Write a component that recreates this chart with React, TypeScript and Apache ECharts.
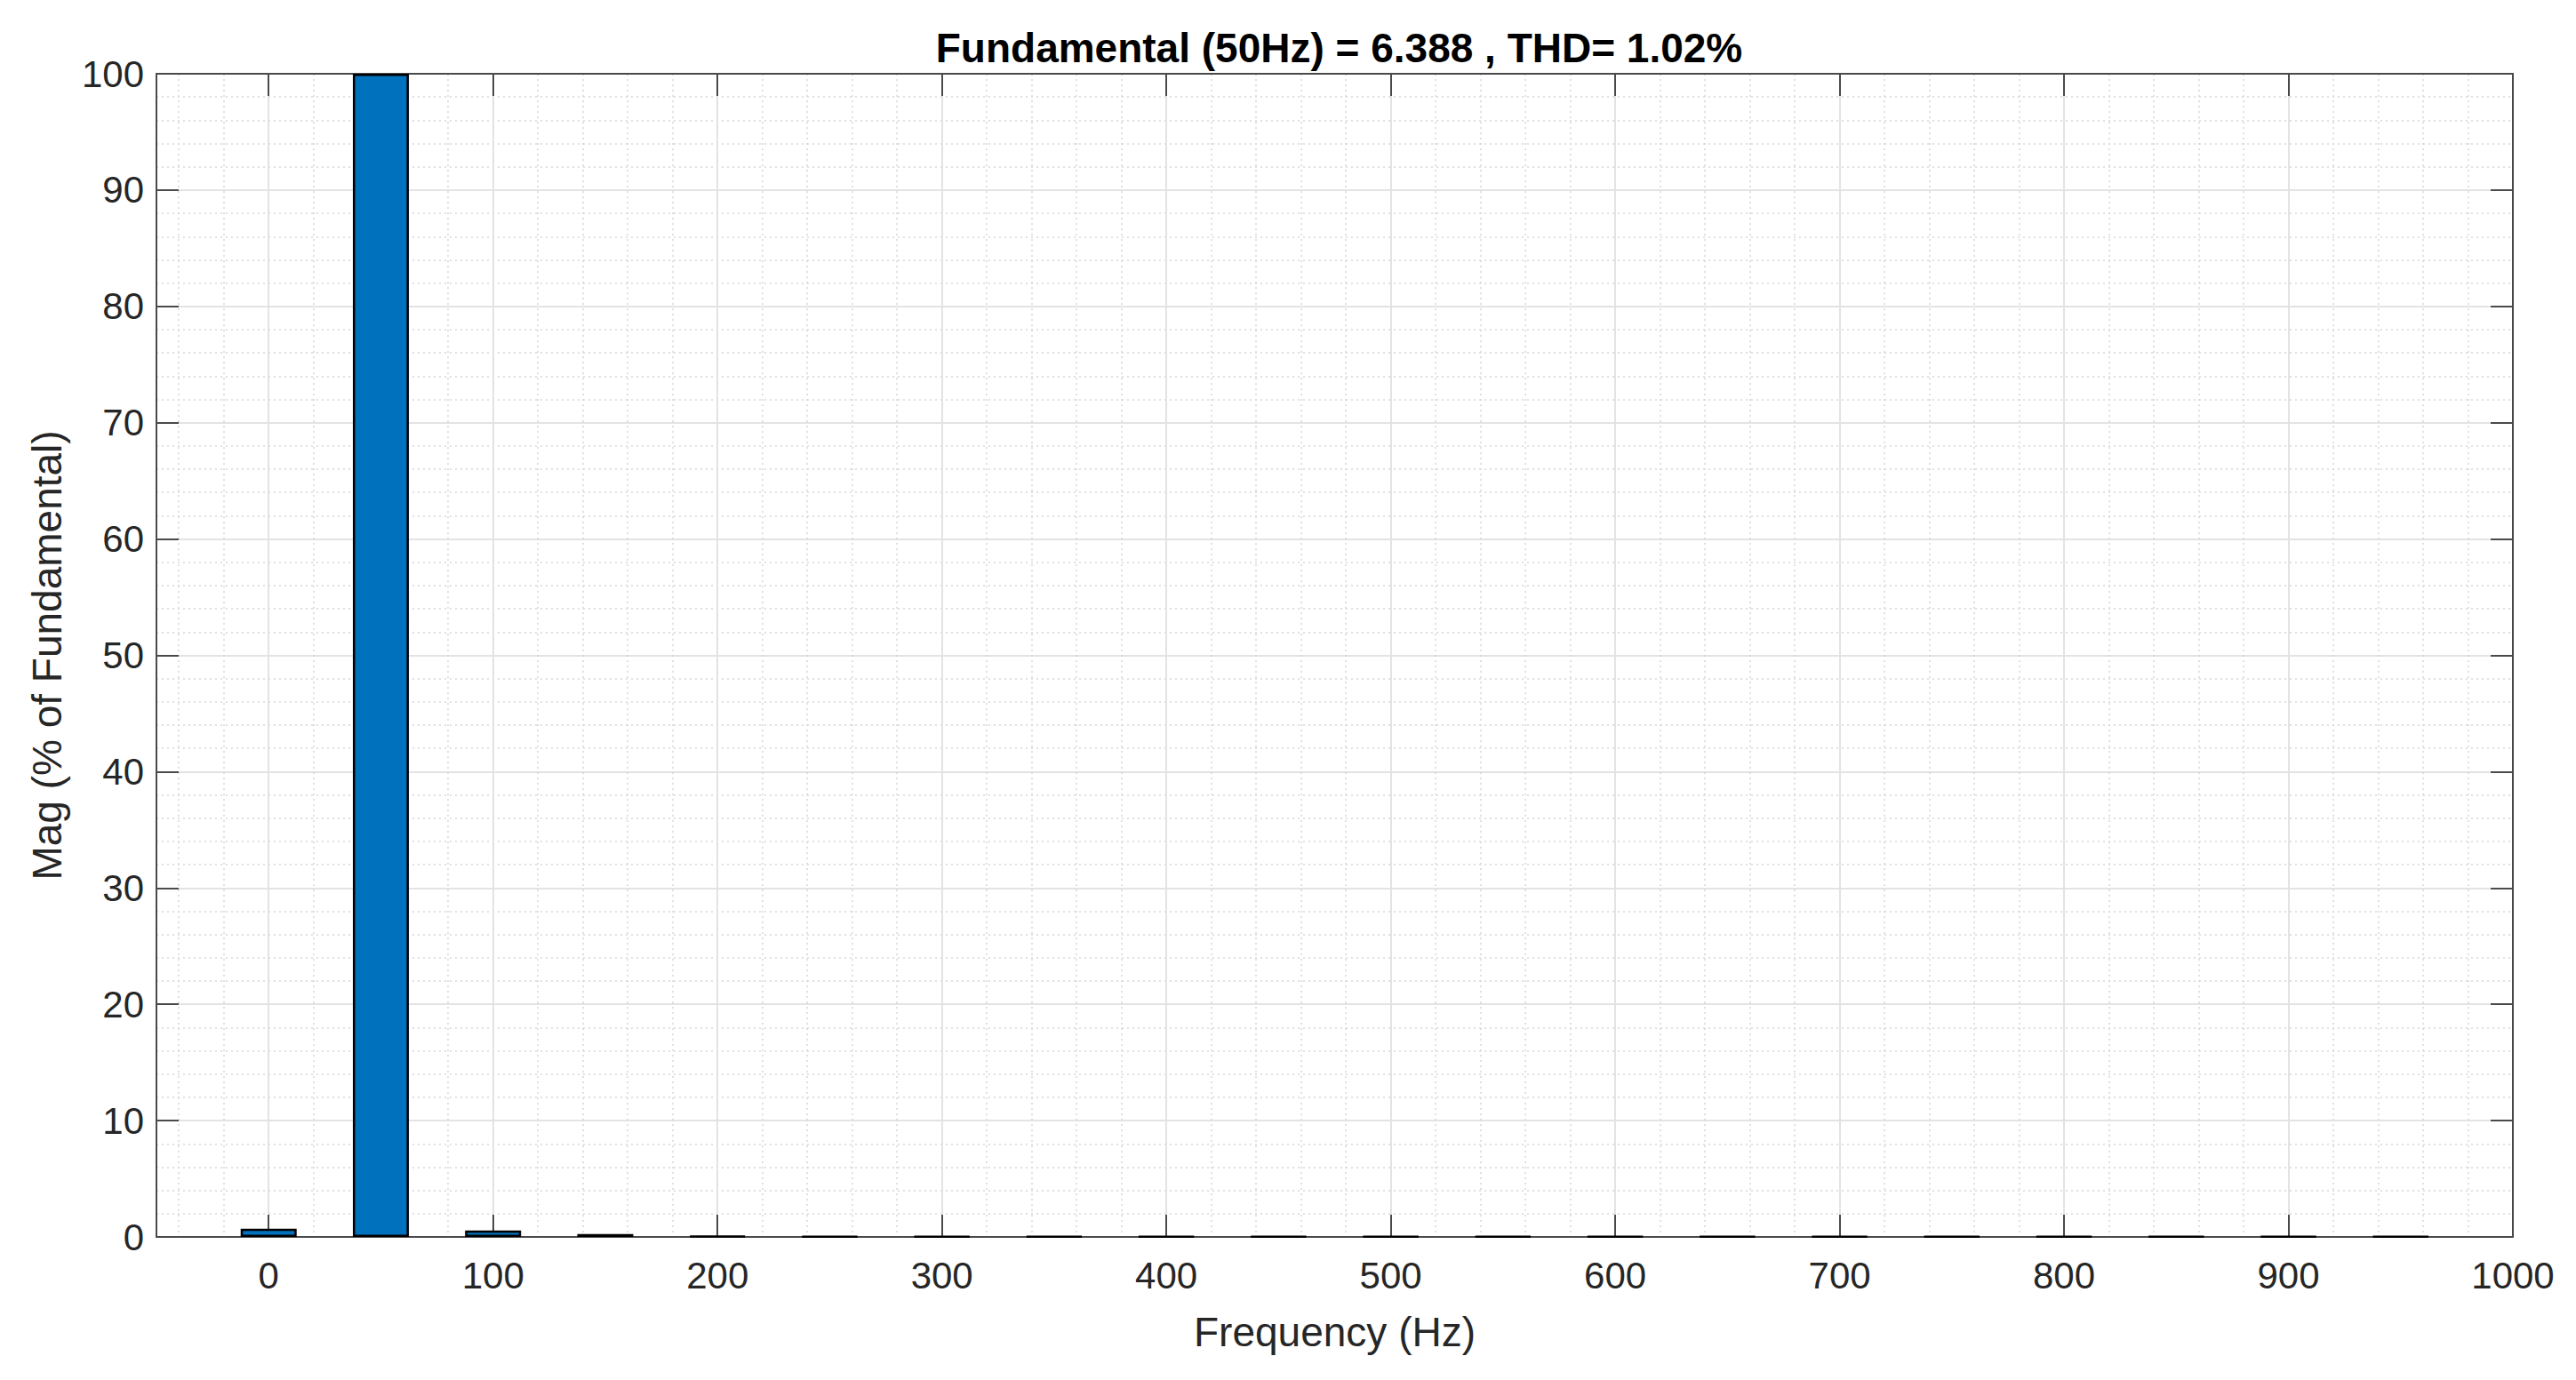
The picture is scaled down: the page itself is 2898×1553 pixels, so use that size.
import React, { useEffect, useRef } from "react";
import * as echarts from "echarts";

// harmonic spectrum, % of fundamental
const frequencies = [0, 50, 100, 150, 200, 250, 300, 350, 400, 450, 500, 550, 600, 650, 700, 750, 800, 850, 900, 950];
const magnitudes = [0.7, 100, 0.55, 0.25, 0.08, 0.05, 0.04, 0.05, 0.04, 0.05, 0.04, 0.05, 0.04, 0.04, 0.05, 0.04, 0.04, 0.05, 0.04, 0.04];

const xMajorTicks = [0, 100, 200, 300, 400, 500, 600, 700, 800, 900, 1000];
const xMinorTicks = [-40, -20, 20, 40, 60, 80, 120, 140, 160, 180, 220, 240, 260, 280, 320, 340, 360, 380, 420, 440, 460, 480, 520, 540, 560, 580, 620, 640, 660, 680, 720, 740, 760, 780, 820, 840, 860, 880, 920, 940, 960, 980];

const title = "Fundamental (50Hz) = 6.388 , THD= 1.02%";
const xName = "Frequency (Hz)";
const yName = "Mag (% of Fundamental)";

const FONT = "'Liberation Sans', Arial, Helvetica, sans-serif";
const TEXT = "#262626";
const AXIS = "#4a4a4a";

const App: React.FC = () => {
  const chartRef = useRef<HTMLDivElement>(null);

  useEffect(() => {
    document.body.style.margin = "0";
    const chart = echarts.init(chartRef.current as HTMLDivElement, undefined, { renderer: "svg" });

    const axisLine = { show: true, onZero: false, lineStyle: { color: AXIS, width: 2 } };
    const tick = { show: true, inside: true, length: 25, lineStyle: { color: AXIS, width: 2 } };

    const option: echarts.EChartsOption = {
      animation: false,
      backgroundColor: "#ffffff",
      textStyle: { fontFamily: FONT },
      title: {
        text: title,
        left: (176 + 2827) / 2,
        top: 26,
        textAlign: "center",
        textStyle: { fontFamily: FONT, fontWeight: "bold", fontSize: 46, color: "#000000" },
      },
      grid: { left: 176, right: 71, top: 83, bottom: 161 },
      xAxis: [
        {
          type: "value",
          min: -50,
          max: 1000,
          position: "bottom",
          name: xName,
          nameLocation: "middle",
          nameGap: 84,
          nameTextStyle: { fontFamily: FONT, fontSize: 46, color: TEXT },
          axisLine,
          axisTick: { ...tick, customValues: xMajorTicks },
          axisLabel: {
            customValues: xMajorTicks,
            formatter: (v: number) => String(v),
            fontFamily: FONT,
            fontSize: 42,
            color: TEXT,
            margin: 22,
          },
          splitLine: { show: true, lineStyle: { color: "#e3e3e3", width: 2 } },
        },
        {
          type: "value",
          min: -50,
          max: 1000,
          position: "top",
          axisLine,
          axisTick: { ...tick, customValues: xMajorTicks },
          axisLabel: { show: false },
          splitLine: { show: false },
        },
        {
          type: "value",
          min: -50,
          max: 1000,
          position: "bottom",
          axisLine: { show: false },
          axisTick: { show: false, customValues: xMinorTicks },
          axisLabel: { show: false, customValues: xMinorTicks },
          splitLine: { show: true, lineStyle: { color: "#d6d6d6", width: 1.5, type: [2, 4] } },
        },
      ],
      yAxis: [
        {
          type: "value",
          min: 0,
          max: 100,
          interval: 10,
          position: "left",
          name: yName,
          nameLocation: "middle",
          nameGap: 100,
          nameTextStyle: { fontFamily: FONT, fontSize: 46, color: TEXT },
          axisLine,
          axisTick: tick,
          axisLabel: { fontFamily: FONT, fontSize: 42, color: TEXT, margin: 14 },
          splitLine: { show: true, lineStyle: { color: "#e3e3e3", width: 2 } },
          minorTick: { show: false, splitNumber: 5 },
          minorSplitLine: { show: true, lineStyle: { color: "#d6d6d6", width: 1.5, type: [2, 4] } },
        },
        {
          type: "value",
          min: 0,
          max: 100,
          interval: 10,
          position: "right",
          axisLine,
          axisTick: tick,
          axisLabel: { show: false },
          splitLine: { show: false },
        },
      ],
      series: [
        {
          type: "bar",
          xAxisIndex: 0,
          yAxisIndex: 0,
          barWidth: 63,
          itemStyle: { color: "#0072BD", borderColor: "#000000", borderWidth: 2.5 },
          data: frequencies.map((f, i) => [f, magnitudes[i]]),
          z: 3,
        },
      ],
    };

    chart.setOption(option);
    return () => {
      chart.dispose();
    };
  }, []);

  return <div ref={chartRef} style={{ width: "2898px", height: "1553px" }} />;
};

export default App;
